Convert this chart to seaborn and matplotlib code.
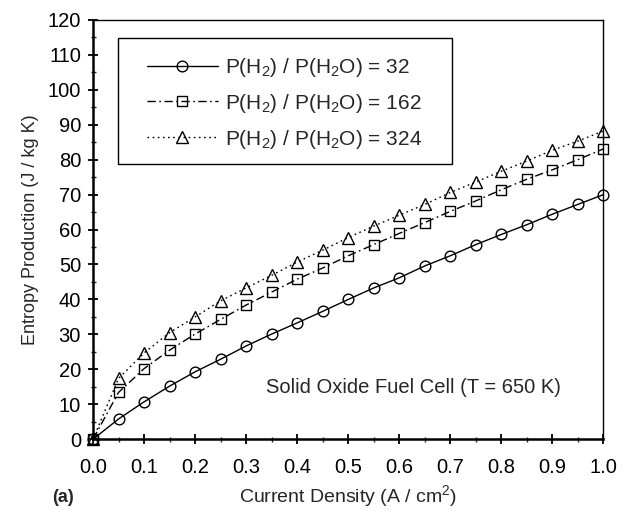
import numpy as np
import pandas as pd
import matplotlib
matplotlib.use("Agg")
import matplotlib.pyplot as plt
import seaborn as sns
from matplotlib.ticker import MultipleLocator
from matplotlib.patches import Rectangle

current = [0.0, 0.05, 0.10, 0.15, 0.20, 0.25, 0.30, 0.35, 0.40, 0.45, 0.50,
           0.55, 0.60, 0.65, 0.70, 0.75, 0.80, 0.85, 0.90, 0.95, 1.00]
s32 = [0.0, 5.8, 10.7, 15.2, 19.3, 22.9, 26.7, 30.1, 33.3, 36.6, 40.0,
       43.3, 46.2, 49.6, 52.5, 55.7, 58.6, 61.4, 64.4, 67.2, 70.0]
s162 = [0.0, 13.4, 20.2, 25.5, 30.1, 34.3, 38.4, 42.1, 45.8, 49.0, 52.5,
        55.7, 58.9, 62.0, 65.2, 68.2, 71.4, 74.4, 77.1, 80.0, 83.1]
s324 = [0.0, 17.4, 24.7, 30.5, 35.0, 39.6, 43.3, 46.9, 50.7, 54.1, 57.7,
        61.0, 64.1, 67.2, 70.6, 73.6, 76.7, 79.6, 82.7, 85.3, 88.2]
labels = ["P(H$_2$) / P(H$_2$O) = 32", "P(H$_2$) / P(H$_2$O) = 162",
          "P(H$_2$) / P(H$_2$O) = 324"]
x_ticks = [0.0, 0.1, 0.2, 0.3, 0.4, 0.5, 0.6, 0.7, 0.8, 0.9, 1.0]
y_ticks = list(range(0, 121, 10))

sns.set_theme(style="ticks")
plt.rcParams['font.family'] = ['Liberation Sans', 'DejaVu Sans']
plt.rcParams['mathtext.default'] = 'regular'

fig = plt.figure(figsize=(6.27, 5.13), dpi=100)
ax = fig.add_axes([0.1483, 0.1437, 0.8142, 0.8177])

styles = [
    dict(marker='o', linestyle='-', ms=7.7),
    dict(marker='s', linestyle=(0, (6, 2.5, 1.2, 2.5)), ms=7.2),
    dict(marker='^', linestyle=(0, (1.2, 2.5)), ms=8.5),
]
for ys, lab, st in zip([s32, s162, s324], labels, styles):
    df = pd.DataFrame({"x": current, "y": ys})
    sns.lineplot(data=df, x="x", y="y", ax=ax, color='black', lw=1.0,
                 marker=st['marker'], linestyle=st['linestyle'],
                 markersize=st['ms'], markerfacecolor='none',
                 markeredgecolor='black', markeredgewidth=1.0,
                 label=lab, clip_on=False)

ax.set_xlim(0, 1.0)
ax.set_ylim(0, 120)
ax.set_xticks(x_ticks)
ax.set_xticklabels([f"{v:.1f}" for v in x_ticks])
ax.set_yticks(y_ticks)
ax.xaxis.set_minor_locator(MultipleLocator(0.05))
ax.yaxis.set_minor_locator(MultipleLocator(5))
ax.tick_params(which='major', direction='inout', length=7.2, width=1.3,
               labelsize=14.5, colors='black')
ax.tick_params(axis='x', which='major', pad=10)
ax.tick_params(axis='y', which='major', pad=5)
ax.tick_params(which='minor', direction='inout', length=3.6, width=1.0)
for s in ['left', 'bottom']:
    ax.spines[s].set_linewidth(1.8)
for s in ['top', 'right']:
    ax.spines[s].set_linewidth(1.0)
for s in ax.spines.values():
    s.set_color('black')

ax.set_xlabel("Current Density (A / cm$^2$)", fontsize=14, labelpad=4)
ax.set_ylabel("Entropy Production (J / kg K)", fontsize=13, labelpad=6)

# legend: entries without frame, plus a separate rectangular frame
leg = ax.legend(loc='center left', bbox_to_anchor=(0.105, 0.801),
                borderaxespad=0, borderpad=0, fontsize=15, frameon=False,
                handlelength=3.44, numpoints=1, labelspacing=0.62,
                handletextpad=0.32)
frame = Rectangle((0.049, 0.657), 0.654, 0.300, transform=ax.transAxes,
                  fill=False, edgecolor='black', lw=1.0, zorder=5)
ax.add_patch(frame)

ax.text(0.917, 14.7, "Solid Oxide Fuel Cell (T = 650 K)", fontsize=14.5,
        ha='right', va='center')
fig.text(0.100, 0.030, "(a)", fontsize=13, fontweight='bold', ha='center',
         va='center')

fig.savefig("out.png", dpi=100)
